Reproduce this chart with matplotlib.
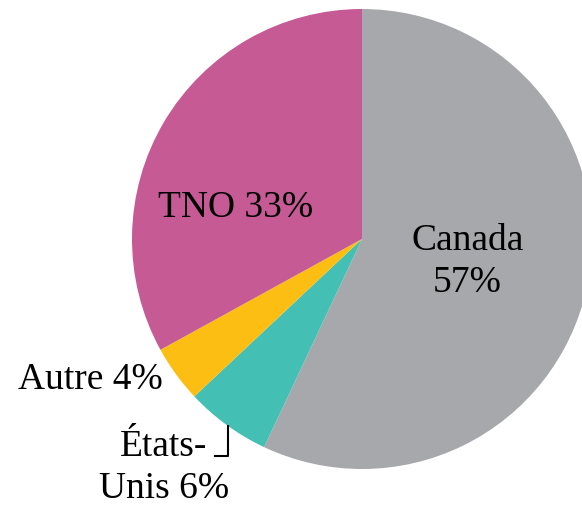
import matplotlib.pyplot as plt
from matplotlib.lines import Line2D

labels = ['Canada', 'États-Unis', 'Autre', 'TNO']
shares = [57, 6, 4, 33]
colors = ['#A7A8AC', '#43BFB4', '#FDBE13', '#C55A94']

plt.rcParams['font.family'] = ['Liberation Serif', 'DejaVu Serif']

fig = plt.figure(figsize=(5.82, 5.06), dpi=100)
ax = fig.add_axes([0, 0, 1, 1])

ax.pie(shares, colors=colors, startangle=90, counterclock=False,
       radius=1, wedgeprops=dict(linewidth=0))

ax.set_xlim(-362 / 230, (582 - 362) / 230)
ax.set_ylim(-266 / 230, 240 / 230)
ax.set_aspect('equal')
ax.axis('off')

fs = 27
ax.text(0.459, -0.096, f'Canada\n{shares[0]}%', ha='center', va='center',
        fontsize=fs, linespacing=1.28)
ax.text(-0.548, 0.139, f'TNO {shares[3]}%', ha='center', va='center', fontsize=fs)
ax.text(-1.183, -0.609, f'Autre {shares[2]}%', ha='center', va='center', fontsize=fs)
ax.text(-0.861, -0.99, f'États-\nUnis {shares[1]}%', ha='center', va='center',
        fontsize=fs, linespacing=1.25)

# leader line for États-Unis
x0 = (228 - 362) / 230
ax.add_line(Line2D([x0, x0, (215 - 362) / 230],
                   [(240 - 427) / 230, (240 - 457) / 230, (240 - 457) / 230],
                   color='black', lw=1.5))

fig.savefig('out.png', dpi=100)
